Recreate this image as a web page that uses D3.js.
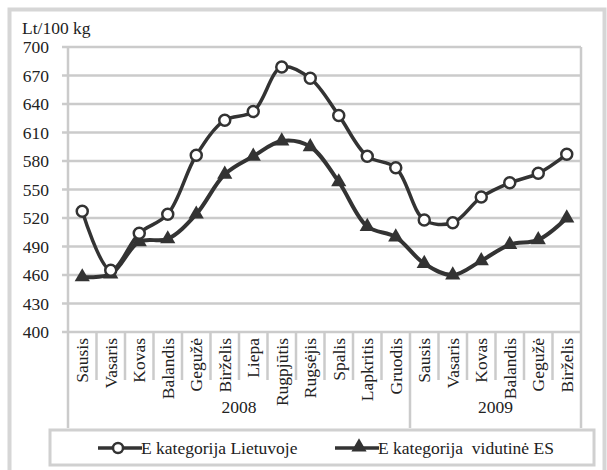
<!DOCTYPE html>
<html>
<head>
<meta charset="utf-8">
<script src="https://cdn.jsdelivr.net/npm/d3@7"></script>
<style>
  body { margin: 0; background: #fff; }
  text { font-family: "Liberation Serif", "Times New Roman", serif; fill: #222; }
</style>
</head>
<body>
<div id="chart"></div>
<script>
var months = ["Sausis","Vasaris","Kovas","Balandis","Gegužė","Birželis","Liepa","Rugpjūtis","Rugsėjis","Spalis","Lapkritis","Gruodis",
              "Sausis","Vasaris","Kovas","Balandis","Gegužė","Birželis"];
var years = ["2008","2009"];
var yearLength = [12, 6];
var lietuva = [527,465,504,524,586,623,632,679,667,628,585,573,518,515,542,557,567,587];
var es = [458,461,495,498,524,566,585,601,595,558,511,500,472,460,475,492,497,520];
var yTicks = d3.range(400, 701, 30);
var seriesNames = ["E kategorija Lietuvoje", "E kategorija  vidutinė ES"];

var width = 607, height = 470,
    margin = {top: 47, left: 68, right: 26, bottom: 138};

var svg = d3.select("#chart").append("svg")
  .attr("width", width)
  .attr("height", height);

var grey = "#cbcbcb", ink = "#333";

// outer frame
svg.append("rect")
  .attr("x", 9.5).attr("y", 9.5)
  .attr("width", 595).attr("height", 480)
  .attr("fill", "none").attr("stroke", "#d6d6d6").attr("stroke-width", 4);

var x = d3.scaleBand()
  .domain(d3.range(months.length))
  .range([margin.left, width - margin.right]);

var y = d3.scaleLinear()
  .domain([400, 700])
  .range([height - margin.bottom, margin.top]);

var g = svg.append("g");

// grid
g.selectAll(".grid")
  .data(yTicks)
  .enter().append("line")
  .attr("x1", margin.left - 6)
  .attr("x2", width - margin.right)
  .attr("y1", d => y(d)).attr("y2", d => y(d))
  .attr("stroke", grey).attr("stroke-width", 2.5);

// y labels
g.selectAll(".ylab")
  .data(yTicks)
  .enter().append("text")
  .attr("x", 49)
  .attr("y", d => y(d))
  .attr("dy", "0.35em")
  .attr("text-anchor", "end")
  .style("font-size", "17.5px")
  .text(d => d);

svg.append("text")
  .attr("x", 22).attr("y", 34)
  .style("font-size", "17.5px")
  .text("Lt/100 kg");

// axes + plot border
var y0 = y(400);
g.append("line")
  .attr("x1", margin.left).attr("x2", margin.left)
  .attr("y1", margin.top).attr("y2", 428)
  .attr("stroke", grey).attr("stroke-width", 2.5);
g.append("line")
  .attr("x1", width - margin.right).attr("x2", width - margin.right)
  .attr("y1", margin.top).attr("y2", 428)
  .attr("stroke", grey).attr("stroke-width", 2.5);

// category separators
var yearStart = [0, yearLength[0]];
g.selectAll(".sep")
  .data(d3.range(1, months.length))
  .enter().append("line")
  .attr("x1", d => x(d)).attr("x2", d => x(d))
  .attr("y1", y0)
  .attr("y2", d => yearStart.indexOf(d) >= 0 ? 428 : 380)
  .attr("stroke", grey).attr("stroke-width", 2.5);

// month labels
g.selectAll(".mlab")
  .data(months)
  .enter().append("text")
  .attr("transform", (d, i) => "translate(" + (x(i) + x.bandwidth() / 2) + "," + (y0 + 6) + ") rotate(-90)")
  .attr("dy", "0.35em")
  .attr("text-anchor", "end")
  .style("font-size", "17.5px")
  .text(d => d);

// year labels
g.selectAll(".ylab2")
  .data(years)
  .enter().append("text")
  .attr("x", (d, i) => (x(yearStart[i]) + x(yearStart[i]) + yearLength[i] * x.step()) / 2)
  .attr("y", 413)
  .attr("text-anchor", "middle")
  .style("font-size", "17.5px")
  .text(d => d);

var line = d3.line()
  .x((d, i) => x(i) + x.bandwidth() / 2)
  .y(d => y(d))
  .curve(d3.curveCatmullRom);

var tri = d3.symbol().type(d3.symbolTriangle).size(100);

g.append("path").datum(es)
  .attr("d", line).attr("fill", "none")
  .attr("stroke", ink).attr("stroke-width", 4);
g.selectAll(".tri")
  .data(es)
  .enter().append("path")
  .attr("d", tri)
  .attr("transform", (d, i) => "translate(" + (x(i) + x.bandwidth() / 2) + "," + y(d) + ")")
  .attr("fill", ink);

g.append("path").datum(lietuva)
  .attr("d", line).attr("fill", "none")
  .attr("stroke", ink).attr("stroke-width", 3.5);
g.selectAll(".dot")
  .data(lietuva)
  .enter().append("circle")
  .attr("cx", (d, i) => x(i) + x.bandwidth() / 2)
  .attr("cy", d => y(d))
  .attr("r", 5.5)
  .attr("fill", "#fff").attr("stroke", ink).attr("stroke-width", 2.5);

// legend
var leg = svg.append("g");
leg.append("rect")
  .attr("x", 50).attr("y", 430)
  .attr("width", 544).attr("height", 35)
  .attr("fill", "#fff").attr("stroke", "#d0d0d0").attr("stroke-width", 3);

var legX = [98, 335];
seriesNames.forEach(function(name, i) {
  var lx = legX[i], ly = 448;
  leg.append("line")
    .attr("x1", lx).attr("x2", lx + 44)
    .attr("y1", ly).attr("y2", ly)
    .attr("stroke", ink).attr("stroke-width", 3.5);
  if (i === 0) {
    leg.append("circle").attr("cx", lx + 20).attr("cy", ly).attr("r", 5)
      .attr("fill", "#fff").attr("stroke", ink).attr("stroke-width", 2.5);
  } else {
    leg.append("path").attr("d", tri)
      .attr("transform", "translate(" + (lx + 24) + "," + (ly - 1) + ")")
      .attr("fill", ink);
  }
  leg.append("text")
    .attr("x", lx + 43).attr("y", ly)
    .attr("dy", "0.35em")
    .style("font-size", "17.5px")
    .style("white-space", "pre")
    .text(name);
});
</script>
</body>
</html>
